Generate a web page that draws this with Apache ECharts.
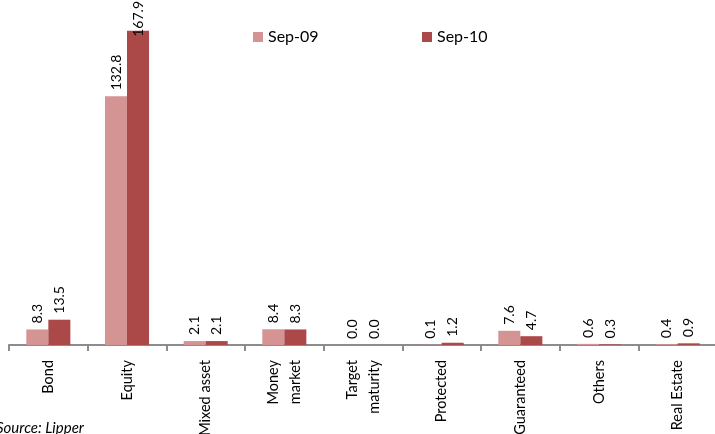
<!DOCTYPE html>
<html>
<head>
<meta charset="utf-8">
<script src="https://cdn.jsdelivr.net/npm/echarts@6/dist/echarts.min.js"></script>
<style>
  html, body { margin: 0; padding: 0; background: #fff; }
  #chart { width: 715px; height: 434px; }
</style>
</head>
<body>
<div id="chart"></div>
<script>
// Fund categories and net assets at each date
const categories = ['Bond', 'Equity', 'Mixed asset', 'Money\nmarket', 'Target\nmaturity', 'Protected', 'Guaranteed', 'Others', 'Real Estate'];
const sep09 = [8.3, 132.8, 2.1, 8.4, 0.0, 0.1, 7.6, 0.6, 0.4];
const sep10 = [13.5, 167.9, 2.1, 8.3, 0.0, 1.2, 4.7, 0.3, 0.9];
const seriesNames = ['Sep-09', 'Sep-10'];
const colors = ['#D49494', '#AB4848'];

const font = 'Lato, "Open Sans", sans-serif';

const valueLabel = {
  show: true,
  position: 'top',
  rotate: 90,
  align: 'left',
  verticalAlign: 'middle',
  distance: 6,
  color: '#000',
  fontFamily: font,
  fontSize: 14,
  formatter: p => p.value.toFixed(1)
};

// Keep value labels inside the canvas: a label that would run past the top edge
// is re-anchored so that its top sits just below the edge
function keepInside(params) {
  const r = params.labelRect;
  if (r.y < 1) {
    return { x: r.x + r.width / 2, y: 1 + r.height };
  }
  return {};
}

const legendText = { fontFamily: font, fontSize: 16, color: '#000' };

const chart = echarts.init(document.getElementById('chart'));
chart.setOption({
  animation: false,
  grid: { left: 9, right: -2, top: 8, bottom: 89, containLabel: false, outerBoundsMode: 'none' },
  legend: [
    {
      data: [seriesNames[0]], left: 253, top: 29, padding: 0, itemWidth: 10, itemHeight: 10,
      icon: 'rect', textStyle: legendText
    },
    {
      data: [seriesNames[1]], left: 422, top: 29, padding: 0, itemWidth: 10, itemHeight: 10,
      icon: 'rect', textStyle: legendText
    }
  ],
  xAxis: {
    type: 'category',
    data: categories,
    axisLine: { lineStyle: { color: '#8C8C8C', width: 2 } },
    axisTick: { show: true, length: 6, lineStyle: { color: '#8C8C8C', width: 2 } },
    axisLabel: {
      interval: 0, rotate: 90, margin: 15,
      color: '#000', fontFamily: font, fontSize: 14.5, lineHeight: 22
    }
  },
  yAxis: {
    type: 'value', min: 0, max: 180, interval: 20,
    show: false, splitLine: { show: false }
  },
  series: [
    {
      name: seriesNames[0], type: 'bar', data: sep09,
      itemStyle: { color: colors[0] },
      barGap: '0%', barCategoryGap: '44%',
      label: valueLabel, labelLayout: keepInside
    },
    {
      name: seriesNames[1], type: 'bar', data: sep10,
      itemStyle: { color: colors[1] },
      barGap: '0%', barCategoryGap: '44%',
      label: valueLabel, labelLayout: keepInside
    }
  ],
  graphic: [
    {
      type: 'text', left: -4, top: 421,
      style: { text: 'Source: Lipper', font: 'italic 15px ' + font, fill: '#000' }
    }
  ]
});
</script>
</body>
</html>
